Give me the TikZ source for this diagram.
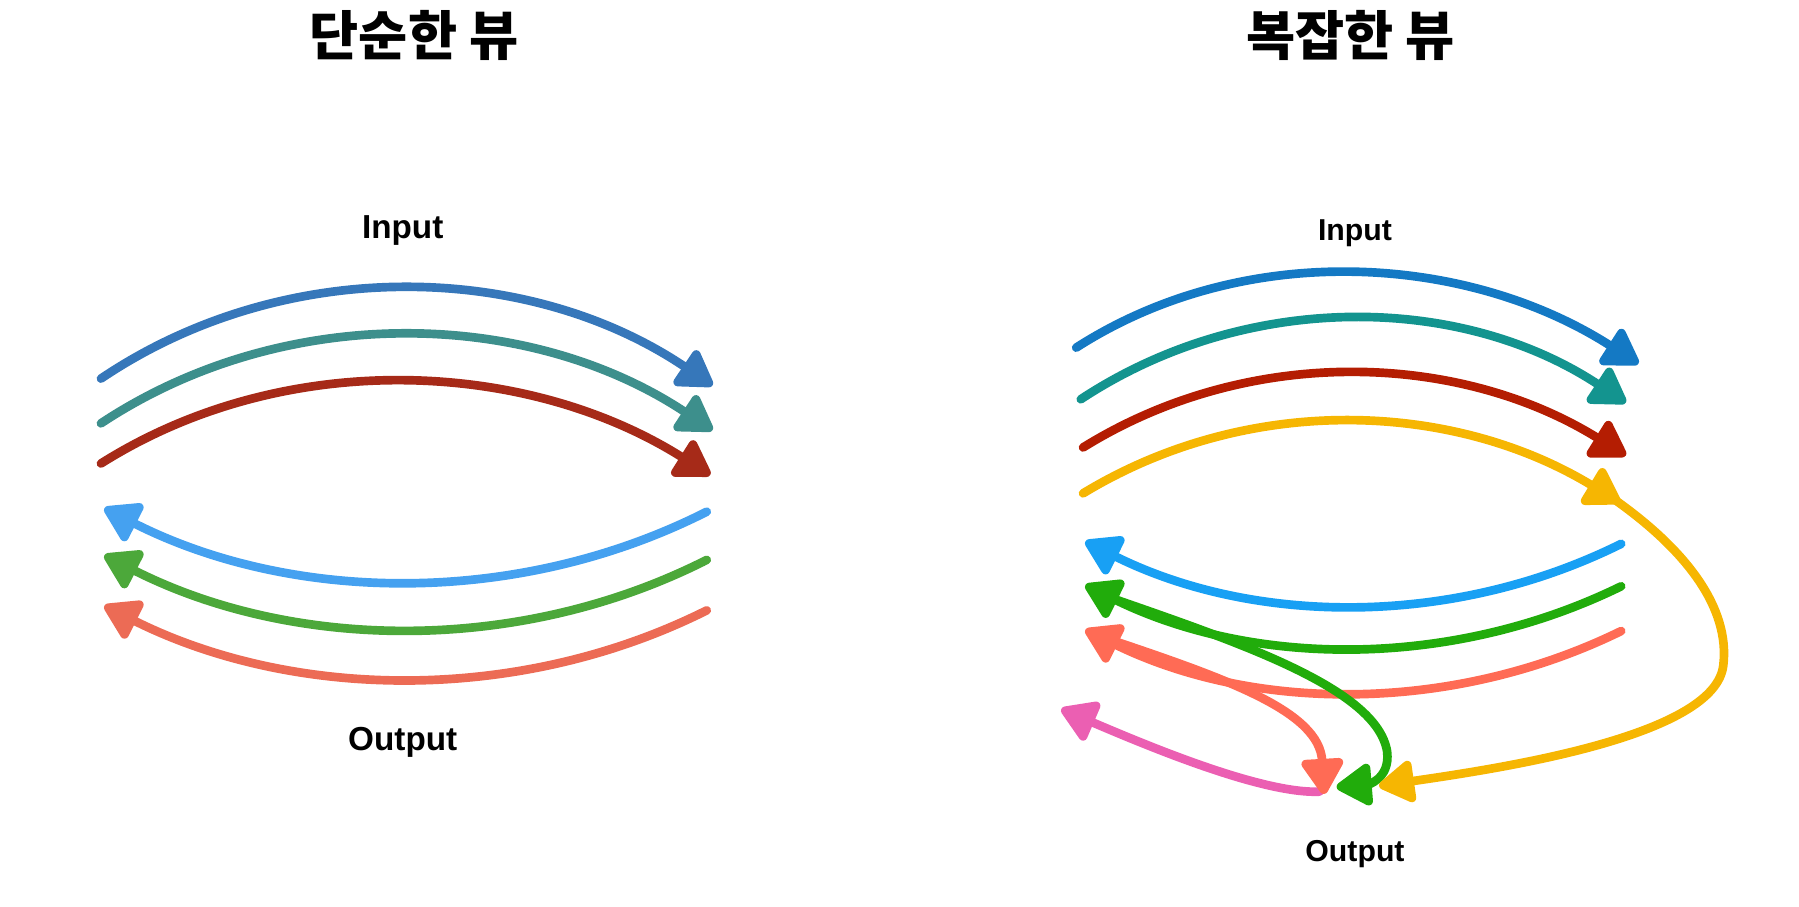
\documentclass[tikz,border=0pt]{standalone}
\usepackage{fontspec}
\newfontfamily\kor{Noto Sans CJK KR}
\newfontfamily\lab{Liberation Sans}
\usetikzlibrary{arrows.meta}
\definecolor{lBlue}{HTML}{3677BA}
\definecolor{lTeal}{HTML}{3D8F8C}
\definecolor{lRed}{HTML}{A62A18}
\definecolor{lSky}{HTML}{45A1F0}
\definecolor{lGreen}{HTML}{4CA83A}
\definecolor{lSalmon}{HTML}{EC6B55}
\definecolor{rBlue}{HTML}{1479C4}
\definecolor{rTeal}{HTML}{13948F}
\definecolor{rRed}{HTML}{B41D02}
\definecolor{rYellow}{HTML}{F6B602}
\definecolor{rSky}{HTML}{18A0F4}
\definecolor{rGreen}{HTML}{21AC0B}
\definecolor{rSalmon}{HTML}{FF6B55}
\definecolor{rPink}{HTML}{EB5FB2}
\tikzset{
  crayon/.style={line width=4.3pt, line cap=round, line join=round},
  arr/.style={crayon, -{Triangle[length=19.5pt,width=23pt,round]}},
  title/.style={font=\kor\bfseries\fontsize{26.5}{31}\selectfont, inner sep=0pt},
  lbl/.style={font=\lab\bfseries\fontsize{16.5}{19}\selectfont, inner sep=0pt},
  lbls/.style={font=\lab\bfseries\fontsize{15}{18}\selectfont, inner sep=0pt}
}
\begin{document}
\begin{tikzpicture}[x=0.02cm,y=-0.02cm]
\useasboundingbox (0,0) rectangle (1568,790);
% titles and labels
\node[title] (t1) at (361,31) {단순한 뷰};
\node[title] (t2) at (1177,31) {복잡한 뷰};
\node[lbl] (in1) at (351,201) {Input};
\node[lbl] (out1) at (351,647) {Output};
\node[lbls] (in2) at (1181,203) {Input};
\node[lbls] (out2) at (1181,744) {Output};
% ---------- left: simple view ----------
\coordinate (a1s) at (88,330);   \coordinate (a1e) at (621,336);
\coordinate (a2s) at (88,369);   \coordinate (a2e) at (621,375);
\coordinate (a3s) at (88,404);   \coordinate (a3e) at (619,414);
\coordinate (b1s) at (616,446);  \coordinate (b1e) at (91,443);
\coordinate (b2s) at (616,488);  \coordinate (b2e) at (91,484);
\coordinate (b3s) at (616,532);  \coordinate (b3e) at (91,528);
\draw[arr, lBlue]  (a1s) .. controls (248,222) and (461,228) .. (a1e);
\draw[arr, lTeal]  (a2s) .. controls (248,263) and (461,269) .. (a2e);
\draw[arr, lRed]   (a3s) .. controls (248,303) and (459,313) .. (a3e);
\draw[arr, lSky]   (b1s) .. controls (452,529) and (255,526) .. (b1e);
\draw[arr, lGreen] (b2s) .. controls (452,571) and (255,567) .. (b2e);
\draw[arr, lSalmon](b3s) .. controls (452,614) and (255,610) .. (b3e);
% ---------- right: complex view ----------
\coordinate (c1s) at (938,303);  \coordinate (c1e) at (1428,317);
\coordinate (c2s) at (942,348);  \coordinate (c2e) at (1417,351);
\coordinate (c3s) at (944,390);  \coordinate (c3e) at (1417,397);
\coordinate (c4s) at (944,430);  \coordinate (c4e) at (1412,438);
\coordinate (d1s) at (1413,474); \coordinate (d1e) at (946,472);
\coordinate (d2s) at (1413,511); \coordinate (d2e) at (946,510);
\coordinate (d3s) at (1413,550); \coordinate (d3e) at (946,549);
\draw[arr, rBlue]   (c1s) .. controls (1086,208) and (1280,222) .. (c1e);
\draw[arr, rTeal]   (c2s) .. controls (1086,253) and (1273,256) .. (c2e);
\draw[arr, rRed]    (c3s) .. controls (1089,300) and (1272,307) .. (c3e);
\draw[arr, rYellow] (c4s) .. controls (1089,342) and (1267,350) .. (c4e);
\draw[arr, rSky]    (d1s) .. controls (1266,547) and (1093,545) .. (d1e);
\draw[arr, rGreen]  (d2s) .. controls (1266,583) and (1093,582) .. (d2e);
\draw[arr, rSalmon] (d3s) .. controls (1266,622) and (1093,621) .. (d3e);
% second paths to output
\coordinate (ys) at (1408,436);   \coordinate (ym) at (1502,580);  \coordinate (ye) at (1202,685);
\coordinate (gs) at (965,520);    \coordinate (gm) at (1209,655);  \coordinate (ge) at (1165,686);
\coordinate (ss) at (966,557);    \coordinate (se) at (1154,692);
\coordinate (ps) at (1150,690);   \coordinate (pe) at (925,618);
\draw[arr, rPink]   (ps) .. controls (1100,692) and (1000,650) .. (pe);
\draw[arr, rSalmon] (ss) .. controls (1070,592) and (1150,620) .. (se);
\draw[arr, rGreen]  (gs) .. controls (1080,560) and (1200,600) .. (gm) .. controls (1212,680) and (1190,684) .. (ge);
\draw[arr, rYellow] (ys) .. controls (1470,480) and (1508,530) .. (ym) .. controls (1495,640) and (1320,668) .. (ye);
\end{tikzpicture}
\end{document}
